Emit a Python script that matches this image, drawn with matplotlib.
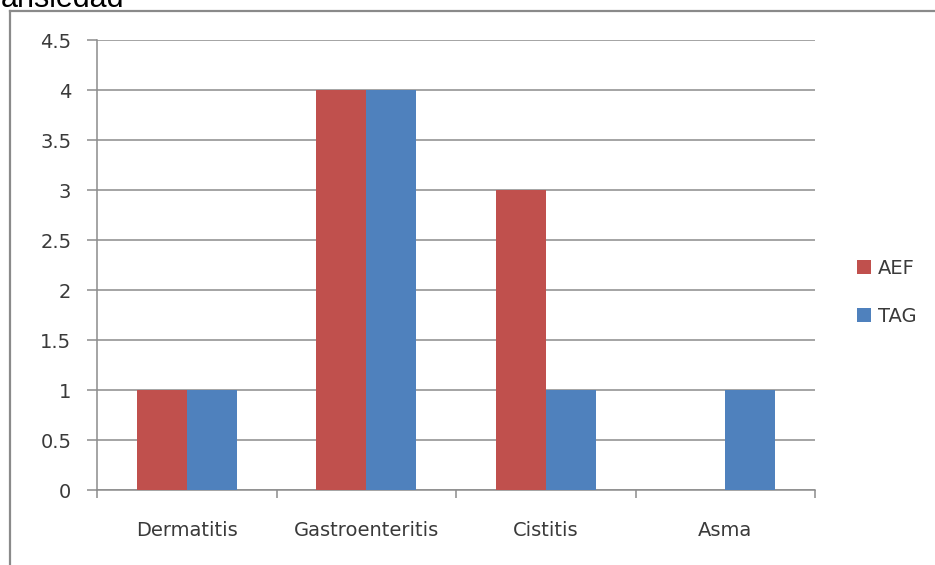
import matplotlib
matplotlib.use("Agg")
import matplotlib.pyplot as plt
import numpy as np
from matplotlib.lines import Line2D

categories = ["Dermatitis", "Gastroenteritis", "Cistitis", "Asma"]
aef_values = [1, 4, 3, 0]
tag_values = [1, 4, 1, 1]
series_names = ["AEF", "TAG"]
y_ticks = [0, 0.5, 1, 1.5, 2, 2.5, 3, 3.5, 4, 4.5]
y_tick_labels = ["0", "0.5", "1", "1.5", "2", "2.5", "3", "3.5", "4", "4.5"]

RED = "#C0504D"
BLUE = "#4F81BD"
GRID = "#8C8C8C"
TEXT = "#3A3A3A"

plt.rcParams["font.family"] = ["DejaVu Sans"]

W, H = 935, 565
fig = plt.figure(figsize=(W / 100, H / 100), dpi=100)
fig.patch.set_facecolor("white")

# Outer frame of the chart area (top and left edges)
fig.add_artist(Line2D([10 / W, 10 / W], [0, 1 - 11 / H], transform=fig.transFigure,
                      color="#8A8A8A", lw=1.6))
fig.add_artist(Line2D([10 / W, 1], [1 - 11 / H, 1 - 11 / H], transform=fig.transFigure,
                      color="#8A8A8A", lw=1.6))

# Heading above the frame, partly beyond the top edge
fig.text(1 / W, 1 - 7 / H, "ansiedad", fontsize=22, family=["Liberation Sans", "DejaVu Sans"],
         color="black", va="baseline", ha="left")

ax = fig.add_axes([97 / W, 75 / H, (815 - 97) / W, (490 - 40) / H])

x = np.arange(len(categories))
w = 0.279
ax.bar(x - w / 2, aef_values, width=w, color=RED, label=series_names[0], zorder=3)
ax.bar(x + w / 2, tag_values, width=w, color=BLUE, label=series_names[1], zorder=3)

ax.set_xlim(-0.5, len(categories) - 0.5)
ax.set_ylim(0, 4.5)

ax.set_yticks(y_ticks)
ax.set_yticklabels(y_tick_labels)
ax.yaxis.grid(True, color=GRID, lw=1.1, zorder=0)
ax.set_axisbelow(True)

ax.set_xticks(x)
ax.set_xticklabels(categories)
ax.set_xticks(np.arange(-0.5, len(categories), 1.0), minor=True)
ax.tick_params(axis="x", which="major", length=0, pad=22, labelsize=14, labelcolor=TEXT)
ax.tick_params(axis="x", which="minor", length=6, width=1.1, color=GRID, direction="out")
ax.tick_params(axis="y", length=7, width=1.1, color=GRID, direction="out", pad=11.5,
               labelsize=14, labelcolor=TEXT)

for side in ["top", "right"]:
    ax.spines[side].set_visible(False)
for side in ["left", "bottom"]:
    ax.spines[side].set_color(GRID)
    ax.spines[side].set_linewidth(1.1)

leg = fig.legend(loc="upper left", bbox_to_anchor=(839 / W, 1 - 241 / H), frameon=False,
                 handlelength=0.75, handleheight=0.75, handletextpad=0.35, labelspacing=1.5,
                 prop={"size": 14})
for t in leg.get_texts():
    t.set_color(TEXT)

fig.savefig("out.png", dpi=100, facecolor="white")
